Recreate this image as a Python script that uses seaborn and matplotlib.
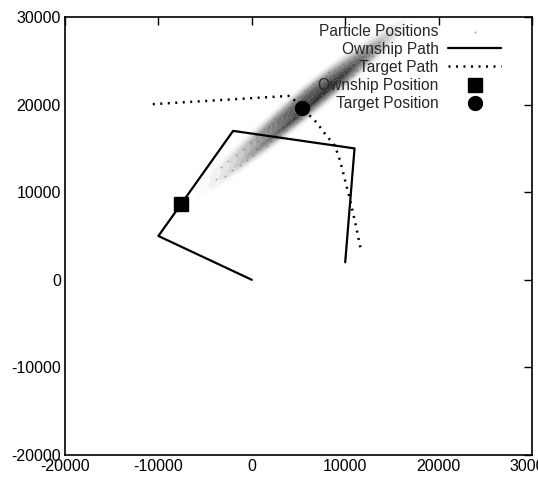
import numpy as np
import pandas as pd
import matplotlib
matplotlib.use("Agg")
import matplotlib.pyplot as plt
import seaborn as sns

# ---- data ----
own_x = [0, -10000, -2000, 11000, 10000]
own_y = [0, 5000, 17000, 15000, 2000]

tgt_x = [-10600, 4100, 5340, 6950, 7850, 8900, 9450, 10000, 10550, 11100, 11700]
tgt_y = [20050, 21000, 19650, 17950, 16650, 15300, 13600, 11300, 9000, 6400, 3300]

own_pos = (-7600, 8600)
tgt_pos = (5340, 19650)

part_x = [-3800, -3300, -2900, -2500, -2100, -1700, -1300, -900, -500, -200, 100,
          400, 500, 700, 900, 1000, 1200, 1300, 1500, 1600, 1800, 1900, 2100, 2200, 2400,
          2500, 2600, 2800, 2900, 3000,
          3200, 3300, 3500, 3600, 3700, 3800, 4000, 4000, 4200, 4300, 4400, 4500, 4600, 4700,
          4800, 4900, 5000, 5100, 5200, 5300, 5500, 5600, 5700, 5800, 5900, 6000, 6100, 6200,
          6300, 6400, 6500, 6600, 6700, 6800, 7000, 7000, 7200, 7300, 7400, 7500, 7600, 7800,
          7900, 8000, 8100, 8200, 8300, 8500, 8600, 8700, 8800, 9000, 9100, 9200, 9300, 9500,
          9600, 9700, 9800, 10000,
          10100, 10200, 10400, 10500, 10600, 10800, 10900, 11000, 11200, 11300, 11400, 11600,
          11700, 11900, 12000, 12200, 12300, 12500, 12700, 12900, 13000, 13300, 13600, 13800]
part_y = [11500, 12900, 11900, 13600, 12500, 14300, 13100, 14900, 13700, 15700, 14300,
          16500, 14900, 15900, 15000, 16900, 15600, 17200, 16000, 15300, 17500, 16300, 15900, 17900, 16800,
          18300, 16200, 17600, 18600, 16500,
          18900, 17000, 18200, 19400, 17100, 18600, 19700, 17500, 18500, 20200, 17800, 19200, 20500, 18000,
          19600, 20900, 18400, 19300, 21000, 18400, 20300, 21500, 18900, 20000, 21700, 19200, 20600, 22000,
          19500, 21000, 20000, 22300, 19900, 21300, 22700, 20200, 21600, 20600, 22900, 21100, 22200, 20800,
          23300, 21800, 22600, 21200, 23700, 22100, 23000, 21500, 24000, 22500, 23300, 21900, 24300, 22900,
          23800, 22300, 24600, 23200,
          24300, 22900, 25000, 23700, 24400, 23400, 25400, 24000, 24900, 23900, 25700, 24500,
          25300, 26000, 24700, 25600, 26300, 25100, 26100, 26800, 25600, 26500, 27200, 26400]

ticks = [-20000, -10000, 0, 10000, 20000, 30000]
tick_labels = ["-20000", "-10000", "0", "10000", "20000", "30000"]

# ---- figure ----
sns.set_style("white")
plt.rcParams['font.family'] = ['Liberation Sans', 'DejaVu Sans']

fig = plt.figure(figsize=(5.38, 4.80), dpi=100)
ax = fig.add_axes([65/538, 25/480, 467/538, 438/480])

parts = pd.DataFrame({"x": part_x, "y": part_y})
sns.kdeplot(data=parts, x="x", y="y", fill=True, cmap="Greys", levels=20, thresh=0.05,
            bw_adjust=1.5, alpha=0.8, ax=ax, zorder=1, antialiased=True)
sns.scatterplot(data=parts, x="x", y="y", s=2, color="#777777", linewidth=0, alpha=0.6,
                ax=ax, zorder=2, label="Particle Positions")

own = pd.DataFrame({"x": own_x, "y": own_y})
tgt = pd.DataFrame({"x": tgt_x, "y": tgt_y})
sns.lineplot(data=own, x="x", y="y", sort=False, color="black", linewidth=1.6,
             ax=ax, zorder=3, label="Ownship Path")
sns.lineplot(data=tgt, x="x", y="y", sort=False, color="black", linewidth=1.8,
             linestyle=(0, (0.8, 2.2)), ax=ax, zorder=3, label="Target Path")
ax.plot([own_pos[0]], [own_pos[1]], linestyle="none", marker="s", markersize=10,
        color="black", zorder=4, label="Ownship Position")
ax.plot([tgt_pos[0]], [tgt_pos[1]], linestyle="none", marker="o", markersize=10,
        color="black", zorder=4, label="Target Position")

ax.set_xlim(-20000, 30000)
ax.set_ylim(-20000, 30000)
ax.set_xticks(ticks)
ax.set_xticklabels(tick_labels)
ax.set_yticks(ticks)
ax.set_yticklabels(tick_labels)
ax.set_xlabel("")
ax.set_ylabel("")
ax.tick_params(direction="in", length=6, width=1, top=True, right=True,
               labelsize=11.5, colors="black", pad=3)
for sp in ax.spines.values():
    sp.set_visible(True)
    sp.set_color("black")
    sp.set_linewidth(1.2)

handles, labels = ax.get_legend_handles_labels()
order = ["Particle Positions", "Ownship Path", "Target Path", "Ownship Position", "Target Position"]
hmap = dict(zip(labels, handles))
leg = ax.legend([hmap[k] for k in order], order, loc="upper right", frameon=False,
                markerfirst=False, fontsize=11.2, handlelength=3.4, handletextpad=0.6,
                labelspacing=0.2, borderaxespad=0.0, bbox_to_anchor=(0.947, 0.999))

fig.savefig("out.png", dpi=100)
